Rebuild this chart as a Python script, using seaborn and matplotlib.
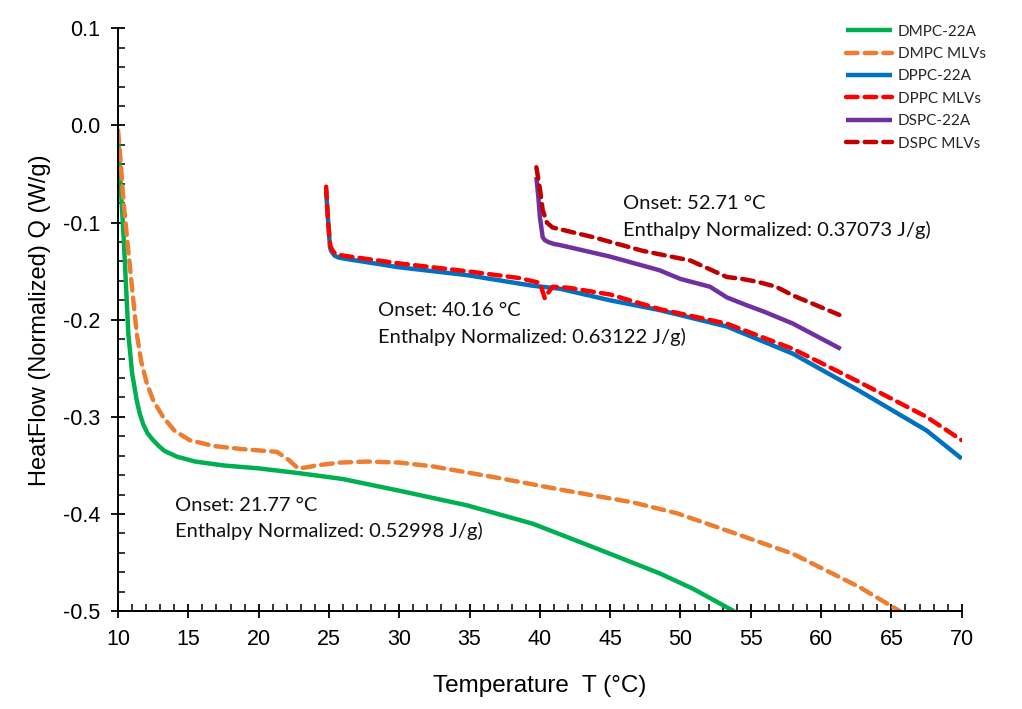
import matplotlib
matplotlib.use("Agg")
import matplotlib.pyplot as plt
from matplotlib.ticker import MultipleLocator
import seaborn as sns
import pandas as pd

# DSC traces: temperature (degC) and heat flow (W/g)
dmpc_22a_t = [10.0, 10.1, 10.2, 10.4, 10.55, 10.73, 11.0, 11.33, 11.55, 11.8, 12.1, 12.5, 12.9,
              13.3, 14.2, 15.5, 17.5, 20.0, 22.9, 26.0, 30.0, 34.8, 39.5, 44.3, 48.5, 50.9, 53.8]
dmpc_22a_q = [-0.012, -0.040, -0.065, -0.115, -0.160, -0.214, -0.255, -0.283, -0.297, -0.308,
              -0.317, -0.324, -0.330, -0.335, -0.341, -0.346, -0.350, -0.353, -0.358, -0.364,
              -0.376, -0.391, -0.410, -0.437, -0.461, -0.477, -0.500]

dmpc_mlv_t = [10.0, 10.2, 10.38, 10.6, 10.85, 11.1, 11.33, 11.65, 12.04, 12.5, 13.2, 14.0, 15.1,
              16.8, 18.7, 21.3, 22.2, 22.8, 23.4, 24.1, 25.8, 27.7, 30.0, 32.4, 37.1, 41.9, 46.6,
              49.7, 53.3, 58.0, 62.7, 65.6]
dmpc_mlv_q = [-0.005, -0.040, -0.077, -0.110, -0.146, -0.182, -0.214, -0.243, -0.265, -0.283,
              -0.300, -0.314, -0.324, -0.330, -0.333, -0.336, -0.345, -0.353, -0.352, -0.350,
              -0.347, -0.346, -0.347, -0.351, -0.363, -0.376, -0.388, -0.399, -0.417, -0.441,
              -0.475, -0.500]

dppc_22a_t = [24.8, 24.9, 25.0, 25.07, 25.15, 25.25, 25.4, 25.7, 26.5, 30.0, 34.8, 39.5, 41.4,
              45.0, 48.5, 53.3, 58.0, 62.7, 67.5, 70.0]
dppc_22a_q = [-0.067, -0.090, -0.110, -0.125, -0.129, -0.131, -0.134, -0.136, -0.138, -0.146,
              -0.154, -0.165, -0.168, -0.180, -0.190, -0.207, -0.235, -0.273, -0.314, -0.343]

dppc_mlv_t = [24.8, 24.9, 25.0, 25.1, 25.3, 25.6, 26.5, 30.0, 34.8, 38.5, 40.0, 40.35, 40.6,
              40.9, 42.0, 45.0, 48.5, 53.3, 58.0, 62.7, 67.5, 70.0]
dppc_mlv_q = [-0.063, -0.090, -0.110, -0.124, -0.130, -0.133, -0.135, -0.142, -0.150, -0.157,
              -0.162, -0.178, -0.172, -0.166, -0.167, -0.174, -0.189, -0.204, -0.230, -0.264,
              -0.300, -0.324]

dspc_22a_t = [39.75, 39.9, 40.0, 40.2, 40.35, 40.6, 41.0, 41.4, 45.0, 48.5, 50.0, 52.1, 53.3,
              54.7, 56.0, 58.0, 61.4]
dspc_22a_q = [-0.053, -0.075, -0.094, -0.115, -0.118, -0.120, -0.122, -0.123, -0.135, -0.149,
              -0.158, -0.166, -0.177, -0.185, -0.192, -0.204, -0.230]

dspc_mlv_t = [39.75, 40.0, 40.2, 40.5, 40.9, 43.8, 47.3, 50.7, 53.3, 54.4, 55.5, 56.8, 58.0, 61.3]
dspc_mlv_q = [-0.043, -0.065, -0.087, -0.100, -0.105, -0.115, -0.129, -0.139, -0.156, -0.158,
              -0.161, -0.166, -0.175, -0.195]

series = [
    ("DMPC-22A", dmpc_22a_t, dmpc_22a_q, "#00B050", "-"),
    ("DMPC MLVs", dmpc_mlv_t, dmpc_mlv_q, "#ED7D31", (0, (2.6, 1.6))),
    ("DPPC-22A", dppc_22a_t, dppc_22a_q, "#0070C0", "-"),
    ("DPPC MLVs", dppc_mlv_t, dppc_mlv_q, "#FF0000", (0, (2.6, 1.6))),
    ("DSPC-22A", dspc_22a_t, dspc_22a_q, "#7030A0", "-"),
    ("DSPC MLVs", dspc_mlv_t, dspc_mlv_q, "#C00000", (0, (2.6, 1.6))),
]

sns.set_theme(style="ticks")
plt.rcParams['font.family'] = ['Liberation Sans', 'DejaVu Sans']

fig = plt.figure(figsize=(10.22, 7.09), dpi=100)
ax = fig.add_axes([0.1155, 0.138, 0.8255, 0.822])

for name, t, q, color, ls in series:
    df = pd.DataFrame({"T": t, "Q": q})
    sns.lineplot(data=df, x="T", y="Q", ax=ax, color=color, linestyle=ls, linewidth=3.2,
                 sort=False, label=name, dash_capstyle="round", solid_capstyle="butt",
                 solid_joinstyle="round", dash_joinstyle="round")

ax.set_xlim(10, 70)
ax.set_ylim(-0.5, 0.1)
ax.xaxis.set_major_locator(MultipleLocator(5))
ax.xaxis.set_minor_locator(MultipleLocator(1))
ax.yaxis.set_major_locator(MultipleLocator(0.1))
ax.yaxis.set_minor_locator(MultipleLocator(0.02))
ax.yaxis.set_major_formatter(matplotlib.ticker.FormatStrFormatter('%.1f'))

ax.tick_params(which="major", direction="inout", length=10, width=1.3, color="black",
               labelsize=15.5, pad=8, labelcolor="black")
ax.tick_params(which="minor", direction="in", length=5, width=1.1, color="black")
for side in ["top", "right"]:
    ax.spines[side].set_visible(False)
for side in ["left", "bottom"]:
    ax.spines[side].set_color("black")
    ax.spines[side].set_linewidth(1.4)

ax.set_xlabel("Temperature  T (°C)", fontsize=17.5, labelpad=18, color="black")
ax.set_ylabel("HeatFlow (Normalized) Q (W/g)", fontsize=17, labelpad=8, color="black")

notes = [
    (45.89, -0.080, -0.108, "Onset: 52.71 °C", "Enthalpy Normalized: 0.37073 J/g)"),
    (28.48, -0.190, -0.218, "Onset: 40.16 °C", "Enthalpy Normalized: 0.63122 J/g)"),
    (14.05, -0.391, -0.417, "Onset: 21.77 °C", "Enthalpy Normalized: 0.52998 J/g)"),
]
for x, y1, y2, s1, s2 in notes:
    ax.text(x, y1, s1, fontsize=14.5, family="Lato", va="center", ha="left", color="#111111")
    ax.text(x, y2, s2, fontsize=14.5, family="Lato", va="center", ha="left", color="#111111")

leg = ax.legend(loc="upper right", bbox_to_anchor=(1.045, 1.03), frameon=False, fontsize=11,
                handlelength=3.0, labelspacing=0.55, handletextpad=0.4)
for txt in leg.get_texts():
    txt.set_family("Lato")

fig.savefig("out.png", dpi=100)
